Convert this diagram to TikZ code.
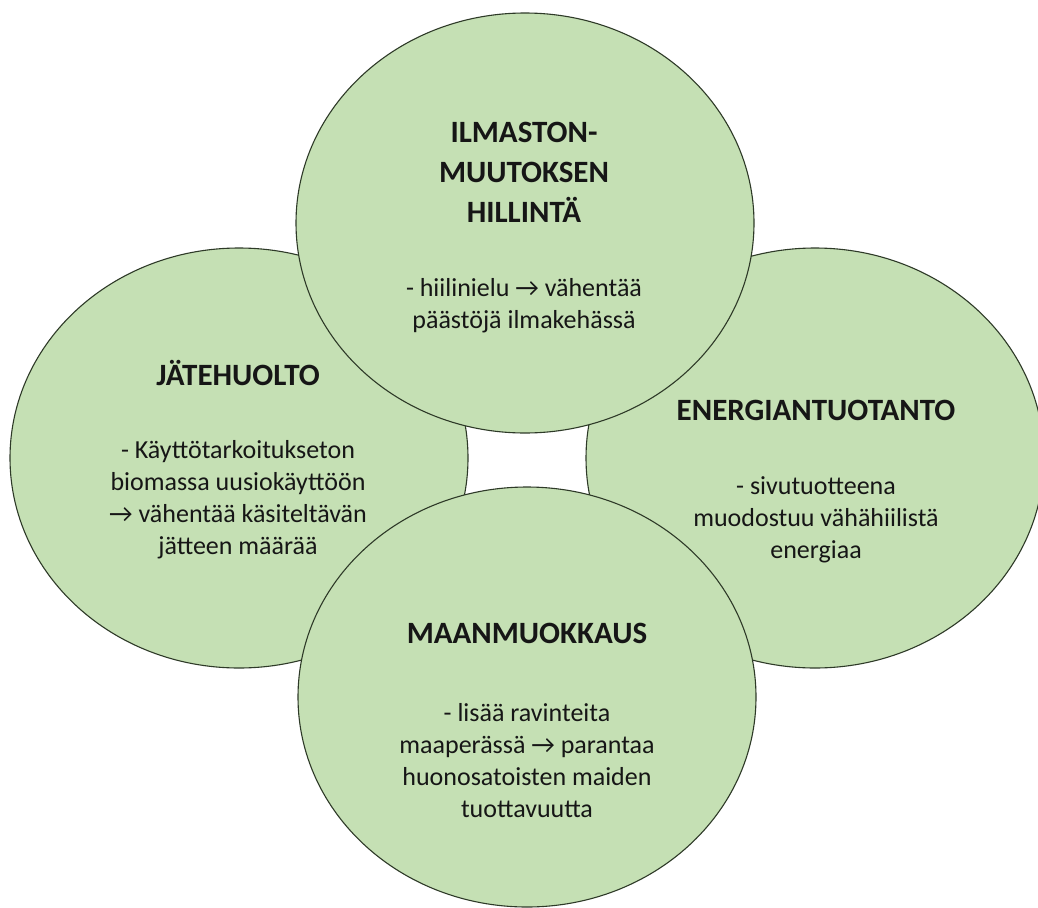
\documentclass[tikz,border=0pt]{standalone}
\usepackage{fontspec}
\setmainfont{Carlito}
\usetikzlibrary{shapes.geometric}
\definecolor{fillgreen}{HTML}{C5E0B4}
\definecolor{edgec}{HTML}{2E3A28}
\definecolor{textc}{HTML}{161616}
\begin{document}
\begin{tikzpicture}[x=1pt,y=-1pt,
  bubble/.style={ellipse, draw=edgec, line width=1.1pt, fill=fillgreen, minimum width=458pt, minimum height=420pt, inner sep=0pt},
  title/.style={font=\fontsize{31}{40}\selectfont\bfseries, align=center, text=textc, inner sep=0pt},
  body/.style={font=\fontsize{26}{32}\selectfont, align=center, text=textc, inner sep=0pt}]
\useasboundingbox[fill=white] (0,0) rectangle (1038,907);
\node[bubble] (left) at (239,458) {};
\node[bubble] (right) at (815,458) {};
\node[bubble] (top) at (525,223) {};
\node[bubble] (bottom) at (527,697) {};
\node[title] (ttop) at (524,172) {ILMASTON-\\MUUTOKSEN\\HILLINTÄ};
\node[body] (btop) at (524,306) {- hiilinielu → vähentää\\päästöjä ilmakehässä};
\node[title] (tleft) at (238,373) {JÄTEHUOLTO};
\node[body] (bleft) at (238,500) {- Käyttötarkoitukseton\\biomassa uusiokäyttöön\\→ vähentää käsiteltävän\\jätteen määrää};
\node[title] (tright) at (816,410) {ENERGIANTUOTANTO};
\node[body] (bright) at (816,520) {- sivutuotteena\\muodostuu vähähiilistä\\energiaa};
\node[title] (tbottom) at (527,633) {MAANMUOKKAUS};
\node[body] (bbottom) at (527,761) {- lisää ravinteita\\maaperässä → parantaa\\huonosatoisten maiden\\tuottavuutta};
\end{tikzpicture}
\end{document}
